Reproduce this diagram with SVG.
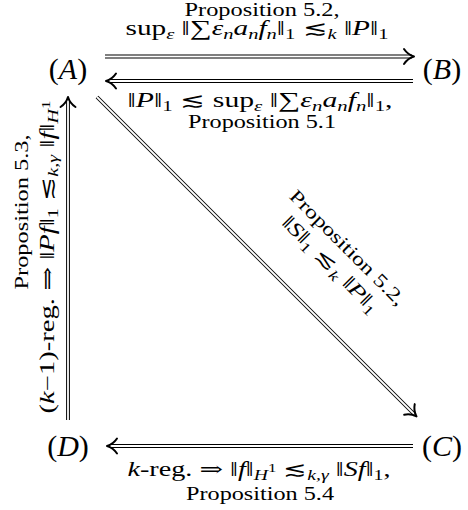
<svg xmlns="http://www.w3.org/2000/svg" xmlns:xlink="http://www.w3.org/1999/xlink" width="468" height="510" viewBox="0 0 468 510">
<style>
.t{font-family:"Liberation Serif","DejaVu Serif",serif;font-size:19px;fill:#000}
.m{font-size:20px}
.n{font-size:30px}
.i{font-style:italic}
.sb{font-size:14px;baseline-shift:-4px}
.sp{font-size:12px;baseline-shift:4px}
.sum{font-size:21px}
.o{fill:none;stroke:#000;stroke-width:3.8}
.w{fill:none;stroke:#fff;stroke-width:1.8}
.hd{fill:none;stroke:#000;stroke-width:2;stroke-linecap:round;stroke-linejoin:round}
</style>
<defs>
<path id="head" class="hd" d="M-10,-7.5 C-7,-3 -3.5,-1 0,0 C-3.5,1 -7,3 -10,7.5"/>
</defs>
<rect width="468" height="510" fill="#fff"/>
<g id="A"><text class="t n" x="68" y="79" text-anchor="middle">(<tspan class="i">A</tspan>)</text></g>
<g id="B"><text class="t n" x="442" y="79" text-anchor="middle">(<tspan class="i">B</tspan>)</text></g>
<g id="C"><text class="t n" x="442" y="456" text-anchor="middle">(<tspan class="i">C</tspan>)</text></g>
<g id="D"><text class="t n" x="68" y="456" text-anchor="middle">(<tspan class="i">D</tspan>)</text></g>
<g id="connectors">
<path class="o" d="M105,56.5H412"/><path class="w" d="M105,56.5H412"/>
<use xlink:href="#head" transform="translate(414,56.5)"/>
<path class="o" d="M413,81H108"/><path class="w" d="M413,81H108"/>
<use xlink:href="#head" transform="translate(106,81) rotate(180)"/>
<path class="o" d="M97,97L415,415"/><path class="w" d="M97,97L415,415"/>
<use xlink:href="#head" transform="translate(416.5,416.5) rotate(45)"/>
<path class="o" d="M413,446H109"/><path class="w" d="M413,446H109"/>
<use xlink:href="#head" transform="translate(107,446) rotate(180)"/>
<path class="o" d="M68,420V99"/><path class="w" d="M68,420V99"/>
<use xlink:href="#head" transform="translate(68,97) rotate(-90)"/>
</g>
<g id="edge-labels">
<text class="t" x="262" y="16" text-anchor="middle" textLength="155" lengthAdjust="spacingAndGlyphs">Proposition 5.2,</text>
<text class="t m" x="257" y="35" text-anchor="middle" textLength="263" lengthAdjust="spacingAndGlyphs">sup<tspan class="sb i">ε</tspan> ‖<tspan class="sum">∑</tspan><tspan class="i">ε</tspan><tspan class="sb i">n</tspan><tspan class="i">a</tspan><tspan class="sb i">n</tspan><tspan class="i">f</tspan><tspan class="sb i">n</tspan>‖<tspan class="sb">1</tspan> ≲<tspan class="sb i">k</tspan> ‖<tspan class="i">P</tspan>‖<tspan class="sb">1</tspan></text>
<text class="t m" x="260" y="107" text-anchor="middle" textLength="265" lengthAdjust="spacingAndGlyphs">‖<tspan class="i">P</tspan>‖<tspan class="sb">1</tspan> ≲ sup<tspan class="sb i">ε</tspan> ‖<tspan class="sum">∑</tspan><tspan class="i">ε</tspan><tspan class="sb i">n</tspan><tspan class="i">a</tspan><tspan class="sb i">n</tspan><tspan class="i">f</tspan><tspan class="sb i">n</tspan>‖<tspan class="sb">1</tspan>,</text>
<text class="t" x="262" y="128" text-anchor="middle" textLength="148" lengthAdjust="spacingAndGlyphs">Proposition 5.1</text>
<text class="t" transform="translate(343,252) rotate(45)" x="0" y="0" text-anchor="middle" textLength="155" lengthAdjust="spacingAndGlyphs">Proposition 5.2,</text>
<text class="t m" transform="translate(326,269) rotate(45)" x="0" y="0" text-anchor="middle" textLength="128" lengthAdjust="spacingAndGlyphs">‖<tspan class="i">S</tspan>‖<tspan class="sb">1</tspan> ≲<tspan class="sb i">k</tspan> ‖<tspan class="i">P</tspan>‖<tspan class="sb">1</tspan></text>
<text class="t" transform="translate(28,212) rotate(-90)" x="0" y="0" text-anchor="middle" textLength="155" lengthAdjust="spacingAndGlyphs">Proposition 5.3,</text>
<text class="t m" transform="translate(54,257) rotate(-90)" x="0" y="0" text-anchor="middle" textLength="313" lengthAdjust="spacingAndGlyphs">(<tspan class="i">k</tspan>−1)-reg. ⇒ ‖<tspan class="i">Pf</tspan>‖<tspan class="sb">1</tspan> ≲<tspan class="sb i">k,γ</tspan> ‖<tspan class="i">f</tspan>‖<tspan class="sb i">H</tspan><tspan class="sp">1</tspan></text>
<text class="t m" x="259" y="476" text-anchor="middle" textLength="263" lengthAdjust="spacingAndGlyphs"><tspan class="i">k</tspan>-reg. ⇒ ‖<tspan class="i">f</tspan>‖<tspan class="sb i">H</tspan><tspan class="sp">1</tspan> ≲<tspan class="sb i">k,γ</tspan> ‖<tspan class="i">Sf</tspan>‖<tspan class="sb">1</tspan>,</text>
<text class="t" x="260" y="500" text-anchor="middle" textLength="148" lengthAdjust="spacingAndGlyphs">Proposition 5.4</text>
</g>
</svg>
